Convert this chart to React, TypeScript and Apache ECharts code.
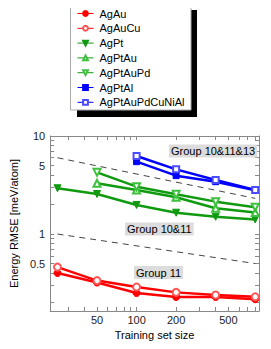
import React, { useEffect, useRef } from "react";
import * as echarts from "echarts";

const trainSizes = [25, 50, 100, 200, 400, 800];
const agAu = [0.4, 0.32, 0.25, 0.228, 0.228, 0.216];
const agAuCu = [0.46, 0.335, 0.288, 0.254, 0.239, 0.229];
const agPt = [2.93, 2.56, 1.98, 1.65, 1.5, 1.41];
const agPtAu = [null, 3.29, 2.81, 2.37, 1.83, 1.66];
const agPtAuPd = [null, 4.26, 3.04, 2.54, 2.14, 1.88];
const agPtAl = [null, null, 5.47, 3.94, 3.42, 2.79];
const agPtAuPdCuNiAl = [null, null, 6.25, 4.57, 3.56, 2.82];

const upperGuide = [6.0, 2.31];
const lowerGuide = [1.0, 0.5];
const guideX = [25, 800];

const xLabels = [50, 100, 200, 500];
const xTicks = [30, 40, 50, 60, 70, 80, 90, 100, 200, 300, 400, 500, 600, 700, 800];
const yLabels = [0.5, 1, 5, 10];
const yTicks = [0.2, 0.3, 0.4, 0.5, 0.6, 0.7, 0.8, 0.9, 1, 2, 3, 4, 5, 6, 7, 8, 9, 10];

const FONT = "'Liberation Sans', Arial, sans-serif";

const pairs = (ys: (number | null)[]) =>
  trainSizes.map((x, i) => [x, ys[i]]).filter((p) => p[1] !== null);

export default function App() {
  const ref = useRef<HTMLDivElement>(null);
  useEffect(() => {
    if (!ref.current) return;
    const chart = echarts.init(ref.current, null, { renderer: "svg" });
    const red = "#ff0000";
    const redLight = "#ff5555";
    const green = "#109a10";
    const greenLight = "#3fc03f";
    const blue = "#0000ff";
    const blueLight = "#4a4aff";
    const mk = (
      name: string,
      ys: (number | null)[],
      color: string,
      markerColor: string,
      symbol: string,
      size: number,
      rotate = 0
    ) => ({
      type: "line",
      name,
      data: pairs(ys),
      symbol,
      symbolSize: size,
      symbolRotate: rotate,
      lineStyle: { color, width: 2.5 },
      itemStyle: { color: markerColor, borderColor: markerColor, borderWidth: 1 },
      z: 3,
    });
    const guide = (ys: number[]) => ({
      type: "line",
      data: guideX.map((x, i) => [x, ys[i]]),
      symbol: "none",
      silent: true,
      lineStyle: { color: "#444", width: 1, type: [6, 5] },
      z: 2,
    });
    const tickCommon = {
      inside: true,
      length: 4,
      lineStyle: { color: "#888", width: 1 },
    };
    chart.setOption({
      animation: false,
      textStyle: { fontFamily: FONT },
      grid: { left: 39, right: 12, top: 136, bottom: 38 },
      legend: {
        orient: "vertical",
        left: 77,
        top: 8,
        padding: 0,
        itemWidth: 16,
        itemHeight: 6,
        itemGap: 3.8,
        z: 5,
        textStyle: { fontSize: 11, color: "#000", fontFamily: FONT, padding: [0, 0, 0, 1] },
        lineStyle: { width: 1 },
        data: ["AgAu", "AgAuCu", "AgPt", "AgPtAu", "AgPtAuPd", "AgPtAl", "AgPtAuPdCuNiAl"],
      },
      xAxis: [
        {
          type: "log",
          min: 22,
          max: 855,
          name: "Training set size",
          nameLocation: "middle",
          nameGap: 16,
          nameTextStyle: { fontSize: 11, color: "#000", fontFamily: FONT },
          axisLine: { lineStyle: { color: "#888" } },
          axisTick: { ...tickCommon, customValues: xTicks },
          axisLabel: { customValues: xLabels, fontSize: 11, color: "#222", margin: 3, fontFamily: FONT },
          splitLine: { show: false },
        },
        {
          type: "log",
          min: 22,
          max: 855,
          position: "top",
          axisLine: { lineStyle: { color: "#888" } },
          axisTick: { ...tickCommon, customValues: xTicks },
          axisLabel: { show: false },
          splitLine: { show: false },
        },
      ],
      yAxis: [
        {
          type: "log",
          min: 0.164,
          max: 10,
          name: "Energy RMSE [meV/atom]",
          nameLocation: "middle",
          nameGap: 25,
          nameTextStyle: { fontSize: 11, color: "#000", fontFamily: FONT },
          axisLine: { show: true, lineStyle: { color: "#888" } },
          axisTick: { show: true, ...tickCommon, customValues: yTicks },
          axisLabel: { customValues: yLabels, fontSize: 11, color: "#222", margin: 5, fontFamily: FONT },
          splitLine: { show: false },
        },
        {
          type: "log",
          min: 0.164,
          max: 10,
          position: "right",
          axisLine: { show: true, lineStyle: { color: "#888" } },
          axisTick: { show: true, ...tickCommon, customValues: yTicks },
          axisLabel: { show: false },
          splitLine: { show: false },
        },
      ],
      graphic: [
        { type: "rect", z: 1, shape: { x: 77, y: 10, width: 120, height: 107 }, style: { fill: "#000" } },
        {
          type: "rect",
          z: 2,
          shape: { x: 70.5, y: 4.5, width: 120.5, height: 105.5 },
          style: { fill: "#fff", stroke: "#aaa", lineWidth: 1 },
        },
        {
          type: "text",
          z: 10,
          x: 169,
          y: 151,
          style: {
            text: "Group 10&11&13",
            font: `11px ${FONT}`,
            fill: "#000",
            backgroundColor: "#dcdcdc",
            padding: [1, 2],
            verticalAlign: "middle",
          },
        },
        {
          type: "text",
          z: 10,
          x: 125,
          y: 229,
          style: {
            text: "Group 10&11",
            font: `11px ${FONT}`,
            fill: "#000",
            backgroundColor: "#dcdcdc",
            padding: [1, 2],
            verticalAlign: "middle",
          },
        },
        {
          type: "text",
          z: 10,
          x: 134,
          y: 272.5,
          style: {
            text: "Group 11",
            font: `11px ${FONT}`,
            fill: "#000",
            backgroundColor: "#dcdcdc",
            padding: [1, 2],
            verticalAlign: "middle",
          },
        },
      ],
      series: [
        guide(upperGuide),
        guide(lowerGuide),
        mk("AgAu", agAu, red, red, "circle", 7),
        mk("AgAuCu", agAuCu, red, redLight, "emptyCircle", 7),
        mk("AgPt", agPt, green, green, "triangle", 7, 180),
        mk("AgPtAu", agPtAu, green, greenLight, "emptyTriangle", 7),
        mk("AgPtAuPd", agPtAuPd, green, greenLight, "emptyTriangle", 7, 180),
        mk("AgPtAl", agPtAl, blue, blue, "rect", 6),
        mk("AgPtAuPdCuNiAl", agPtAuPdCuNiAl, blue, blueLight, "emptyRect", 6),
      ],
    });
    return () => chart.dispose();
  }, []);
  return <div ref={ref} style={{ width: 271, height: 349, margin: -8 }} />;
}
